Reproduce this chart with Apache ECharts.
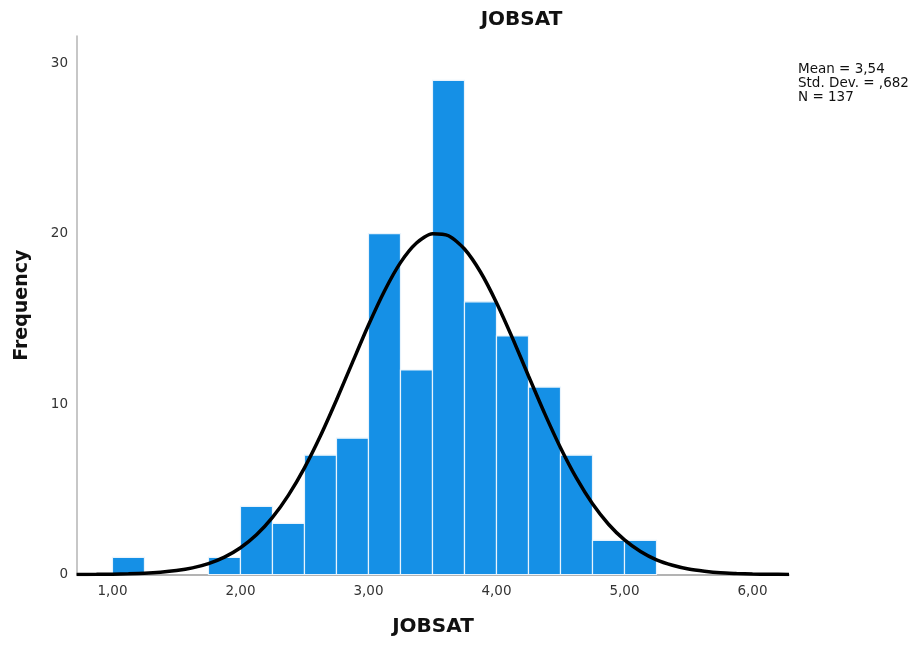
<!DOCTYPE html>
<html>
<head>
<meta charset="utf-8">
<script src="https://cdn.jsdelivr.net/npm/echarts@6/dist/echarts.min.js"></script>
<style>
  html, body { margin: 0; padding: 0; background: #fff; }
  #chart { width: 919px; height: 646px; }
</style>
</head>
<body>
<div id="chart"></div>
<script>
// histogram bins (left edge, width 0.25) and counts
const binStarts = [1.00, 1.75, 2.00, 2.25, 2.50, 2.75, 3.00, 3.25, 3.50, 3.75, 4.00, 4.25, 4.50, 4.75, 5.00]
const binCounts = [1, 1, 4, 3, 7, 8, 20, 12, 29, 16, 14, 11, 7, 2, 2]
const binWidth = 0.25

// normal curve
const curveX = [0.72, 0.875, 1.00, 1.125, 1.25, 1.375, 1.50, 1.625, 1.75, 1.875, 2.00, 2.125, 2.25, 2.375, 2.50, 2.625, 2.75, 2.875, 3.00, 3.125, 3.25, 3.375, 3.50, 3.625, 3.75, 3.875, 4.00, 4.125, 4.25, 4.375, 4.50, 4.625, 4.75, 4.875, 5.00, 5.125, 5.25, 5.375, 5.50, 5.625, 5.75, 5.875, 6.00, 6.125, 6.285]
const curveY = [0.004, 0.01, 0.02, 0.04, 0.07, 0.13, 0.23, 0.39, 0.64, 1.02, 1.57, 2.33, 3.35, 4.66, 6.26, 8.14, 10.24, 12.45, 14.64, 16.64, 18.30, 19.45, 20.00, 19.88, 19.10, 17.75, 15.95, 13.87, 11.65, 9.47, 7.44, 5.65, 4.15, 2.95, 2.03, 1.35, 0.86, 0.54, 0.32, 0.19, 0.10, 0.06, 0.03, 0.015, 0.006]

const xTicks = [1, 2, 3, 4, 5, 6]
const statsLines = ['Mean = 3,54', 'Std. Dev. = ,682', 'N = 137']

const chart = echarts.init(document.getElementById('chart'))

const option = {
  animation: false,
  textStyle: { fontFamily: 'DejaVu Sans' },
  grid: { left: 77, top: 36, width: 712, height: 538.5, outerBoundsMode: 'none', containLabel: false },
  xAxis: {
    type: 'value',
    min: 0.723,
    max: 6.285,
    name: 'JOBSAT',
    nameLocation: 'middle',
    nameGap: 42,
    nameTextStyle: { fontSize: 20, fontWeight: 'bold', color: '#111' },
    axisLine: { lineStyle: { color: '#9a9a9a', width: 1.5 } },
    axisTick: { show: false },
    splitLine: { show: false },
    axisLabel: {
      customValues: xTicks,
      margin: 10,
      fontSize: 13.5,
      color: '#333',
      formatter: v => v.toFixed(2).replace('.', ',')
    }
  },
  yAxis: {
    type: 'value',
    min: 0,
    max: 31.6,
    interval: 10,
    name: 'Frequency',
    nameLocation: 'middle',
    nameGap: 45,
    nameTextStyle: { fontSize: 19, fontWeight: 'bold', color: '#111' },
    axisLine: { show: true, lineStyle: { color: '#b5b5b5', width: 1.5 } },
    axisTick: { show: false },
    splitLine: { show: false },
    axisLabel: { margin: 9, fontSize: 13.5, color: '#333', showMaxLabel: false }
  },
  graphic: [
    {
      type: 'text',
      x: 521.5,
      y: 10,
      style: { text: 'JOBSAT', font: 'bold 20px "DejaVu Sans"', fill: '#111', align: 'center' }
    },
    {
      type: 'text',
      left: 798,
      top: 62,
      style: { text: statsLines.join('\n'), font: '13.5px "DejaVu Sans"', lineHeight: 14, fill: '#111' }
    }
  ],
  series: [
    {
      type: 'custom',
      data: binStarts.map((s, i) => [s, binCounts[i]]),
      renderItem: (params, api) => {
        const x0 = api.value(0)
        const topLeft = api.coord([x0, api.value(1)])
        const bottomRight = api.coord([x0 + binWidth, 0])
        return {
          type: 'rect',
          shape: {
            x: topLeft[0],
            y: topLeft[1],
            width: bottomRight[0] - topLeft[0],
            height: bottomRight[1] - topLeft[1]
          },
          style: { fill: '#1590e6', stroke: '#e8f3fc', lineWidth: 1.2 }
        }
      },
      z: 2
    },
    {
      type: 'line',
      data: curveX.map((x, i) => [x, curveY[i]]),
      smooth: 0.25,
      symbol: 'none',
      lineStyle: { color: '#000', width: 3.5 },
      z: 3
    }
  ]
}

chart.setOption(option)
</script>
</body>
</html>
